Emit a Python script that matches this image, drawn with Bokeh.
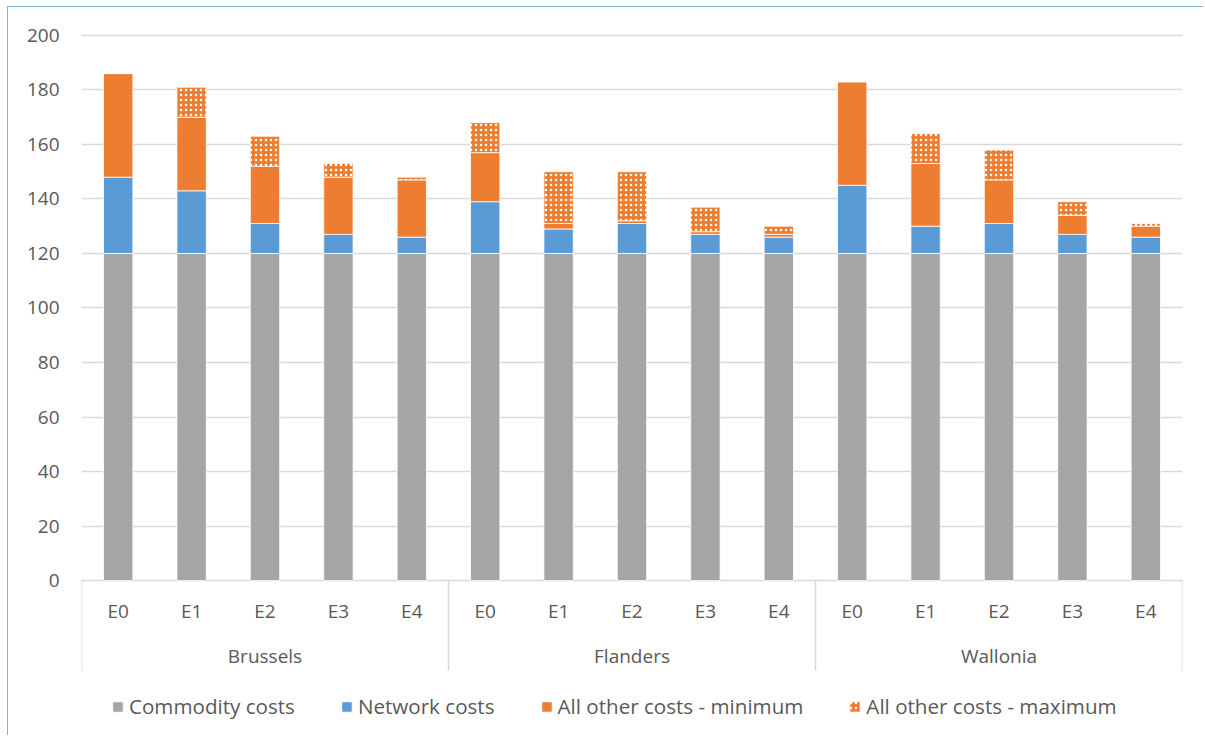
import numpy as np
from bokeh.plotting import figure
from bokeh.models import ColumnDataSource, FixedTicker, Legend, LegendItem, Range1d
from bokeh.core.properties import value
from bokeh.embed import file_html
from bokeh.resources import INLINE

regions = ["Brussels", "Flanders", "Wallonia"]
scenarios = ["E0", "E1", "E2", "E3", "E4"]

commodity = [120, 120, 120, 120, 120, 120, 120, 120, 120, 120, 120, 120, 120, 120, 120]
network = [28, 23, 11, 7, 6, 19, 9, 11, 7, 6, 25, 10, 11, 7, 6]
other_min = [38, 27, 21, 21, 21, 18, 2, 1, 1, 1, 38, 23, 16, 7, 4]
other_max_extra = [0, 11, 11, 5, 1, 11, 19, 18, 9, 3, 0, 11, 11, 5, 1]

series_names = ["Commodity costs", "Network costs", "All other costs - minimum", "All other costs - maximum"]
y_ticks = list(range(0, 201, 20))

FONT = "Open Sans"
TXT = "#595959"
GRID = "#d9d9d9"
GRAY = "#A5A5A5"
BLUE = "#5B9BD5"
ORANGE = "#ED7D31"

n = len(regions) * len(scenarios)
x = np.arange(n)
layers = np.array([commodity, network, other_min, other_max_extra], dtype=float)
tops = np.cumsum(layers, axis=0)
bottoms = tops - layers

p = figure(width=1196, height=729, output_backend="svg", toolbar_location=None,
           x_range=Range1d(-0.5, n - 0.5), y_range=Range1d(-57.2, 201.8),
           x_axis_location=None, min_border_left=73, min_border_right=22,
           min_border_top=23, min_border_bottom=0,
           styles={"margin-left": "7px", "margin-top": "6px",
                   "border-left": "1px solid #7FB2DA", "border-top": "1px solid #7FB2DA"})
p.outline_line_color = None
p.xgrid.visible = False
p.ygrid.ticker = FixedTicker(ticks=y_ticks)
p.ygrid.grid_line_color = GRID
p.ygrid.grid_line_width = 1.5
p.yaxis.ticker = FixedTicker(ticks=y_ticks)
p.yaxis.axis_line_color = None
p.yaxis.major_tick_line_color = None
p.yaxis.major_tick_out = 0
p.yaxis.minor_tick_line_color = None
p.yaxis.major_label_text_font = FONT
p.yaxis.major_label_text_font_size = "19px"
p.yaxis.major_label_text_color = TXT
p.yaxis.major_label_standoff = 22

colors = [GRAY, BLUE, ORANGE, ORANGE]
renderers = []
for i, name in enumerate(series_names):
    src = ColumnDataSource(dict(x=x, bottom=bottoms[i], top=tops[i]))
    kw = dict(fill_color=colors[i], line_color="white", line_width=0.8)
    if i == 3:
        kw = dict(fill_color=ORANGE, line_color="white", line_width=0.8,
                  hatch_pattern="dot", hatch_color="white", hatch_scale=5, hatch_weight=2.8)
    r = p.vbar(x="x", bottom="bottom", top="top", width=0.4, source=src, **kw)
    renderers.append(r)

# category separators and labels
k = len(scenarios)
sep_x = [g * k - 0.5 for g in range(len(regions) + 1)]
p.segment(x0=sep_x, y0=[0] * len(sep_x), x1=sep_x, y1=[-33] * len(sep_x),
          line_color=GRID, line_width=1.5)
p.text(x=x, y=[-11.3] * n, text=scenarios * len(regions), text_font=value(FONT),
       text_font_size="19px", text_color=TXT, text_align="center", text_baseline="middle")
p.text(x=[g * k + (k - 1) / 2 for g in range(len(regions))], y=[-27.8] * len(regions),
       text=regions, text_font=value(FONT), text_font_size="19px", text_color=TXT,
       text_align="center", text_baseline="middle")

legend = Legend(items=[LegendItem(label=nm, renderers=[r]) for nm, r in zip(series_names, renderers)],
                orientation="horizontal", location=(30, 16),
                label_text_font=FONT, label_text_font_size="20.6px", label_text_color=TXT,
                glyph_width=13, glyph_height=13, label_standoff=5, spacing=45,
                border_line_color=None, background_fill_alpha=0, padding=0, margin=0)
p.add_layout(legend, "center")

open("out.html", "w").write(file_html(p, INLINE))
